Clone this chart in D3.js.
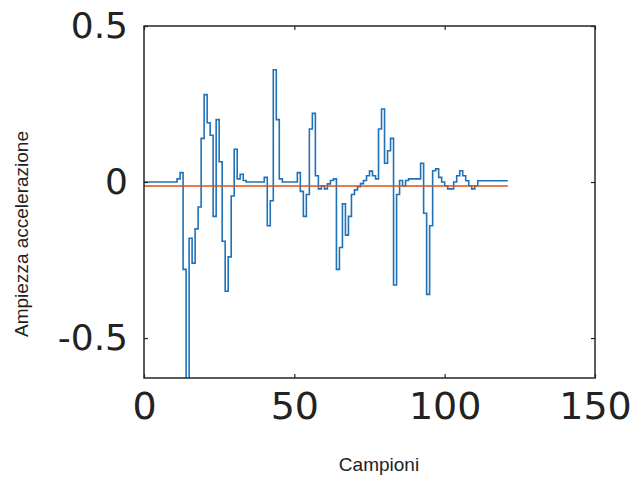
<!DOCTYPE html>
<html>
<head>
<meta charset="utf-8">
<script src="https://cdn.jsdelivr.net/npm/d3@7"></script>
<style>
  body { margin: 0; background: #fff; }
  svg { display: block; }
</style>
</head>
<body>
<svg></svg>
<script>
// samples of the acceleration signal (one value per sample, drawn as stairs)
var signal = [
  0, 0, 0, 0, 0, 0, 0, 0, 0, 0,
  0, 0.01, 0.03, -0.28, -0.64, -0.18, -0.26, -0.15, -0.08, 0.14,
  0.28, 0.19, 0.15, -0.11, 0.2, 0.065, -0.19, -0.35, -0.24, -0.045,
  0.105, 0.01, 0.025, 0.005, 0, 0, 0, 0, 0, 0,
  0.015, -0.14, -0.06, 0.36, 0.2, 0.01, 0, 0, 0, 0,
  0, 0.03, -0.03, -0.11, -0.04, 0.17, 0.22, 0.02, -0.022, -0.012,
  -0.022, -0.006, 0.005, 0.01, -0.28, -0.21, -0.07, -0.17, -0.11, -0.04,
  -0.025, -0.015, -0.005, 0.005, 0.02, 0.035, 0.02, 0.01, 0.17, 0.234,
  0.06, 0.1, 0.14, -0.33, -0.04, 0.005, -0.012, 0.005, 0.01, 0.01,
  0.01, 0.01, 0.06, -0.1, -0.36, -0.14, 0.036, 0.042, 0.015, 0,
  -0.012, -0.022, -0.022, 0, 0.02, 0.036, 0.02, 0.004, -0.012, -0.022,
  -0.012, 0.004, 0.004, 0.004, 0.004, 0.004, 0.004, 0.004, 0.004, 0.004,
  0.004, 0.004
];
var meanLevel = -0.013; // orange reference line
var meanRange = [0, 121];

var xTicks = [0, 50, 100, 150];
var yTicks = [-0.5, 0, 0.5];
var xLabel = "Campioni";
var yLabel = "Ampiezza accelerazione";

var width = 632, height = 477;
var margin = { left: 144, right: 37, top: 26, bottom: 99 };

var svg = d3.select("svg")
  .attr("width", width)
  .attr("height", height);

var x = d3.scaleLinear().domain([0, 150]).range([margin.left, width - margin.right]);
var y = d3.scaleLinear().domain([-0.628, 0.5]).range([height - margin.bottom, margin.top]);

svg.append("clipPath").attr("id", "plot")
  .append("rect")
  .attr("x", x(0)).attr("y", y(0.5))
  .attr("width", x(150) - x(0)).attr("height", y(-0.628) - y(0.5));

var g = svg.append("g").attr("clip-path", "url(#plot)");

// stair line for the signal
var line = d3.line()
  .x(function(d, i) { return x(i); })
  .y(function(d) { return y(d); })
  .curve(d3.curveStepAfter);

g.append("path")
  .datum(signal)
  .attr("d", line)
  .attr("fill", "none")
  .attr("stroke", "#1f72b8")
  .attr("stroke-width", 1.6);

g.append("line")
  .attr("x1", x(meanRange[0])).attr("x2", x(meanRange[1]))
  .attr("y1", y(meanLevel)).attr("y2", y(meanLevel))
  .attr("stroke", "#d95319")
  .attr("stroke-width", 1.5);

// axes with inward ticks, mirrored on top and right
var tickStyle = function(sel) {
  sel.select(".domain").remove();
  sel.selectAll("line").attr("stroke", "#262626").attr("stroke-width", 1.2);
};

svg.append("g")
  .attr("transform", "translate(0," + y(-0.628) + ")")
  .call(d3.axisBottom(x).tickValues(xTicks).tickSizeInner(-4).tickSizeOuter(0).tickPadding(14))
  .call(tickStyle)
  .selectAll("text")
  .attr("font-family", "DejaVu Sans")
  .attr("font-size", 38)
  .attr("fill", "#222")
  .attr("dy", "0.71em");

svg.append("g")
  .attr("transform", "translate(0," + y(0.5) + ")")
  .call(d3.axisTop(x).tickValues(xTicks).tickSizeInner(-4).tickSizeOuter(0).tickFormat(""))
  .call(tickStyle);

svg.append("g")
  .attr("transform", "translate(" + x(0) + ",0)")
  .call(d3.axisLeft(y).tickValues(yTicks).tickSizeInner(-4).tickSizeOuter(0).tickPadding(16)
    .tickFormat(function(d) { return d === 0 ? "0" : d3.format(".1f")(d).replace("\u2212", "-"); }))
  .call(tickStyle)
  .selectAll("text")
  .attr("font-family", "DejaVu Sans")
  .attr("font-size", 36)
  .attr("fill", "#222");

svg.append("g")
  .attr("transform", "translate(" + x(150) + ",0)")
  .call(d3.axisRight(y).tickValues(yTicks).tickSizeInner(-4).tickSizeOuter(0).tickFormat(""))
  .call(tickStyle);

// frame
svg.append("rect")
  .attr("x", x(0)).attr("y", y(0.5))
  .attr("width", x(150) - x(0)).attr("height", y(-0.628) - y(0.5))
  .attr("fill", "none")
  .attr("stroke", "#262626")
  .attr("stroke-width", 1.5);

svg.append("text")
  .attr("x", 379).attr("y", 471)
  .attr("text-anchor", "middle")
  .attr("font-family", "Liberation Sans, Arial")
  .attr("font-size", 19)
  .attr("fill", "#222")
  .text(xLabel);

svg.append("text")
  .attr("transform", "translate(28,234) rotate(-90)")
  .attr("text-anchor", "middle")
  .attr("font-family", "Liberation Sans, Arial")
  .attr("font-size", 19)
  .attr("fill", "#222")
  .text(yLabel);
</script>
</body>
</html>
